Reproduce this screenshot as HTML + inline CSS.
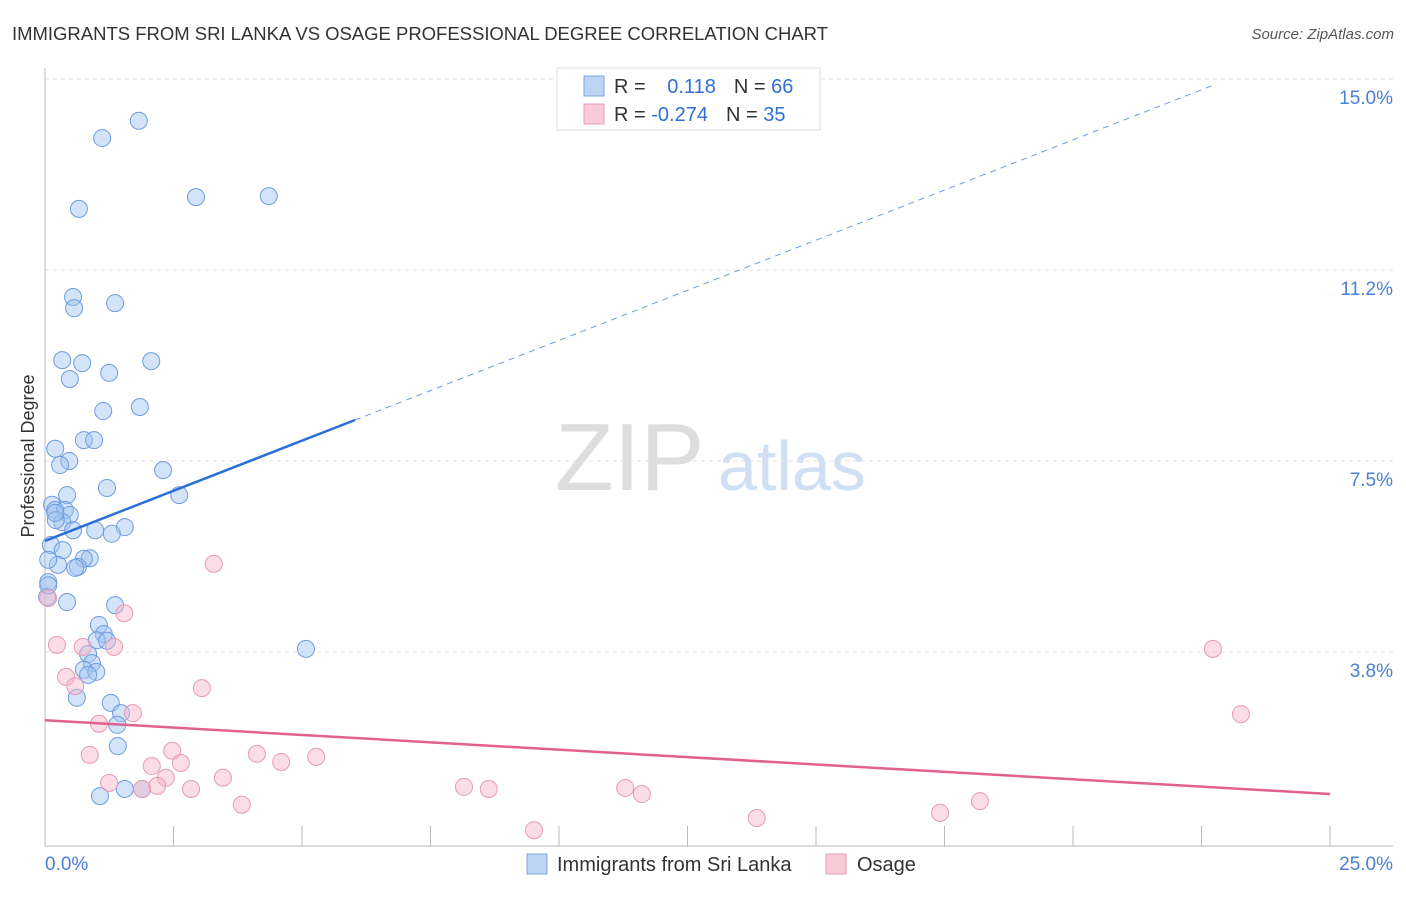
<!DOCTYPE html>
<html><head><meta charset="utf-8">
<style>
body{margin:0;background:#fff;font-family:"Liberation Sans",sans-serif;}
svg text{font-family:"Liberation Sans",sans-serif;}
</style></head>
<body>
<svg id="chart" width="1406" height="892">
<text x="12" y="40" font-size="18.5" fill="#333" textLength="816">IMMIGRANTS FROM SRI LANKA VS OSAGE PROFESSIONAL DEGREE CORRELATION CHART</text>
<text x="1394" y="39" font-size="15" fill="#555" font-style="italic" text-anchor="end">Source: ZipAtlas.com</text>
<text x="555" y="490" font-size="96" fill="#ddd" font-family="Liberation Serif">ZIP</text>
<text x="718" y="490" font-size="70" fill="#cfe0f4">atlas</text>
<text transform="translate(34,456) rotate(-90)" font-size="18" fill="#333" text-anchor="middle">Professional Degree</text>
<g id="grid"></g><g id="marks"></g>
<g>
<rect x="557" y="68" width="263" height="62" fill="#fff" stroke="#ddd"/>
<rect x="584" y="76" width="20" height="20" fill="#bcd5f5" stroke="#7aa6e0"/>
<rect x="584" y="104" width="20" height="20" fill="#f9cbd9" stroke="#e89ab4"/>
<text x="614" y="93" font-size="20" fill="#333">R = <tspan fill="#2f6fd6" dx="16">0.118</tspan><tspan fill="#333" dx="18">N = </tspan><tspan fill="#2f6fd6">66</tspan></text>
<text x="614" y="121" font-size="20" fill="#333">R = <tspan fill="#2f6fd6">-0.274</tspan><tspan fill="#333" dx="18">N = </tspan><tspan fill="#2f6fd6">35</tspan></text>
</g>
<g>
<rect x="527" y="854" width="20" height="20" fill="#bcd5f5" stroke="#7aa6e0"/>
<text x="557" y="871" font-size="20" fill="#333">Immigrants from Sri Lanka</text>
<rect x="826" y="854" width="20" height="20" fill="#f9cbd9" stroke="#e89ab4"/>
<text x="857" y="871" font-size="20" fill="#333">Osage</text>
</g>
</svg>
<script>
const xTicks=[0,25];
const yTicks=[3.75,7.5,11.25,15.0];
const yTickLabels=['3.8%','7.5%','11.2%','15.0%'];
const blueX=[1.74,1.06,0.63,2.80,4.15,0.52,1.30,0.54,0.32,0.69,1.97,1.19,0.46,1.08,1.76,0.72,0.91,0.19,0.45,0.28,2.19,1.15,0.41,2.49,0.13,0.19,0.37,0.46,0.32,0.20,0.52,0.93,1.48,1.24,0.11,0.33,0.83,0.72,0.24,0.61,0.56,0.06,0.06,1.30,0.41,1.00,1.09,0.96,1.15,0.80,0.87,0.72,0.95,0.80,0.59,1.22,1.41,1.34,1.35,1.02,1.48,1.80,4.84,0.04,0.06,0.19];
const blueY=[14.24,13.90,12.51,12.74,12.76,10.78,10.66,10.56,9.54,9.48,9.52,9.29,9.17,8.54,8.62,7.97,7.97,7.80,7.56,7.48,7.38,7.03,6.89,6.89,6.70,6.60,6.60,6.50,6.36,6.40,6.20,6.20,6.26,6.13,5.91,5.81,5.65,5.64,5.52,5.48,5.46,5.62,5.18,4.73,4.79,4.34,4.16,4.04,4.03,3.77,3.59,3.46,3.42,3.36,2.91,2.81,2.61,2.38,1.96,0.98,1.12,1.12,3.87,4.89,5.12,6.54];
const pinkX=[3.13,1.47,0.22,0.70,1.28,0.39,0.56,2.91,1.63,1.00,0.83,2.36,3.93,4.38,5.03,1.98,2.52,2.24,1.19,3.30,2.08,1.80,2.71,3.65,7.77,8.23,10.76,11.07,9.07,13.20,16.60,17.34,21.66,22.18,0.06];
const pinkY=[5.54,4.57,3.95,3.91,3.91,3.32,3.14,3.10,2.61,2.40,1.79,1.87,1.81,1.65,1.75,1.57,1.63,1.34,1.24,1.34,1.18,1.12,1.12,0.81,1.16,1.12,1.14,1.02,0.31,0.55,0.65,0.88,3.87,2.59,4.87];
const blueTrend=[5.99,0.413];
const pinkTrend=[2.47,-0.0608];
const NS='http://www.w3.org/2000/svg';
const X=v=>45+v/25*1348;
const Y=v=>846-v*50.93;
function mk(t,a,p){const e=document.createElementNS(NS,t);for(const k in a)e.setAttribute(k,a[k]);p.appendChild(e);return e;}
const grid=document.getElementById('grid'),marks=document.getElementById('marks');
yTicks.forEach((t,i)=>{
 const l=mk('line',{x1:45,x2:1393,y1:Y(t)-3,y2:Y(t)-3,stroke:'#e2e2e2','stroke-dasharray':'4,4'},grid);
 
 
 const tx=mk('text',{x:1393,y:Y(t)+22,'font-size':19,fill:'#4a7fd4','text-anchor':'end'},grid);tx.textContent=yTickLabels[i];
 
 
});
const ax=mk('line',{x1:45,x2:1393,y1:846,y2:846,stroke:'#bbb'},grid);


const ay=mk('line',{x1:45,x2:45,y1:68,y2:846,stroke:'#bbb'},grid);


for(let i=1;i<=10;i++){const px=45+i*128.5;const tk=mk('line',{x1:px,x2:px,y1:826,y2:846,stroke:'#bbb'},grid);
 
 }
xTicks.forEach((t,i)=>{const tx=mk('text',{x:i?1393:45,y:870,'font-size':19,fill:'#4a7fd4','text-anchor':i?'end':'start'},grid);tx.textContent=t.toFixed(1)+'%';
 
 });
blueX.forEach((x,i)=>{const c=mk('circle',{cx:X(x),cy:Y(blueY[i]),r:8.5,fill:'rgba(160,196,240,0.45)',stroke:'#6d9de0','stroke-width':1},marks);
 
 });
pinkX.forEach((x,i)=>{const c=mk('circle',{cx:X(x),cy:Y(pinkY[i]),r:8.5,fill:'rgba(245,180,200,0.45)',stroke:'#e89ab4','stroke-width':1},marks);
 
 });
const bt=x=>blueTrend[0]+blueTrend[1]*x, pt=x=>pinkTrend[0]+pinkTrend[1]*x;
const b1=mk('line',{x1:X(0),y1:Y(bt(0)),x2:X(5.75),y2:Y(bt(5.75)),stroke:'#2a6fd8','stroke-width':2.5},marks);


const b2=mk('line',{x1:X(5.75),y1:Y(bt(5.75)),x2:X(21.7),y2:Y(bt(21.7)),stroke:'#6d9de0','stroke-width':1,'stroke-dasharray':'6,5'},marks);


const p1=mk('line',{x1:X(0),y1:Y(pt(0)),x2:X(23.83),y2:Y(pt(23.83)),stroke:'#e0608e','stroke-width':2.5},marks);


</script>
</body></html>
